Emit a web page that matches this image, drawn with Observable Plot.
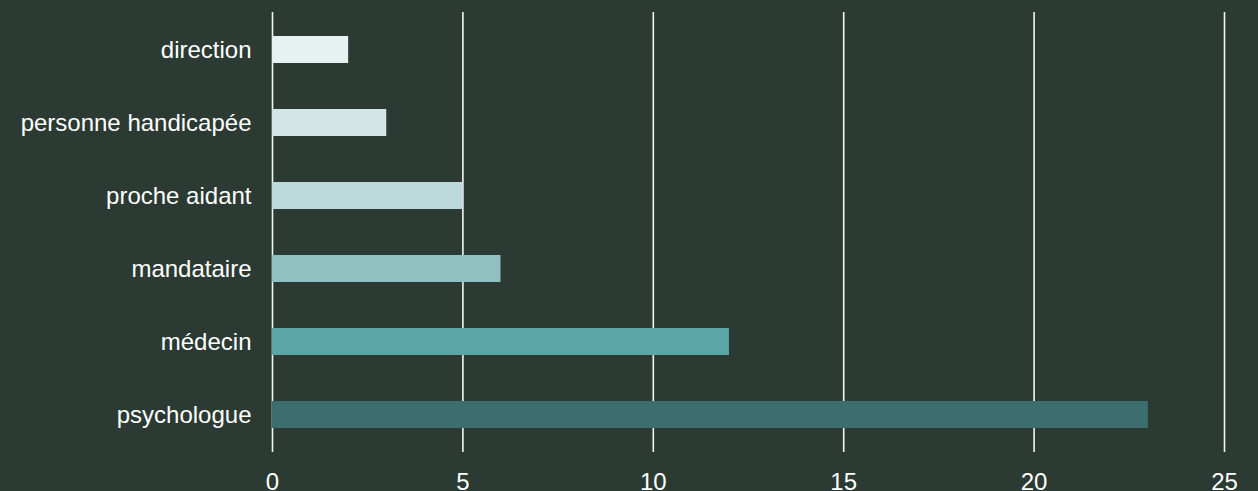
<!DOCTYPE html>
<html>
<head>
<meta charset="utf-8">
<script src="https://cdn.jsdelivr.net/npm/d3@7"></script>
<script src="https://cdn.jsdelivr.net/npm/@observablehq/plot@0.6"></script>
<style>
  html, body { margin: 0; padding: 0; background: #2b3a32; }
  #chart svg { display: block; }
</style>
</head>
<body>
<div id="chart"></div>
<script>
const categories = ["direction", "personne handicapée", "proche aidant", "mandataire", "médecin", "psychologue"];
const counts = [2, 3, 5, 6, 12, 23];
const xTicks = [0, 5, 10, 15, 20, 25];
const barColors = ["#e8f1f2", "#d3e6e6", "#bcdadc", "#8fc1c1", "#5ba4a8", "#3c6e70"];

const data = categories.map((c, i) => ({category: c, value: counts[i]}));

const chart = Plot.plot({
  width: 1258,
  height: 491,
  marginTop: 12,
  marginBottom: 39,
  marginLeft: 272,
  marginRight: 34,
  style: {background: "#2b3a32", color: "#ffffff", fontFamily: "Liberation Sans, Arial, sans-serif", fontSize: "24px"},
  x: {domain: [0, 25], ticks: xTicks, label: null, tickSize: 0, tickPadding: 20},
  y: {domain: categories, paddingInner: 0.632, paddingOuter: 0.316, label: null, tickSize: 0, tickPadding: 21},
  color: {domain: categories, range: barColors},
  marks: [
    Plot.ruleX(xTicks, {stroke: "#f4f4f4", strokeWidth: 1.6}),
    Plot.barX(data, {x: "value", y: "category", fill: "category"}),
    Plot.axisX({ticks: xTicks, tickSize: 0, tickPadding: 20, fontSize: 24, fill: "#ffffff"}),
    Plot.axisY({tickSize: 0, tickPadding: 21, fontSize: 24, fill: "#ffffff"})
  ]
});
document.getElementById("chart").appendChild(chart);
</script>
</body>
</html>
